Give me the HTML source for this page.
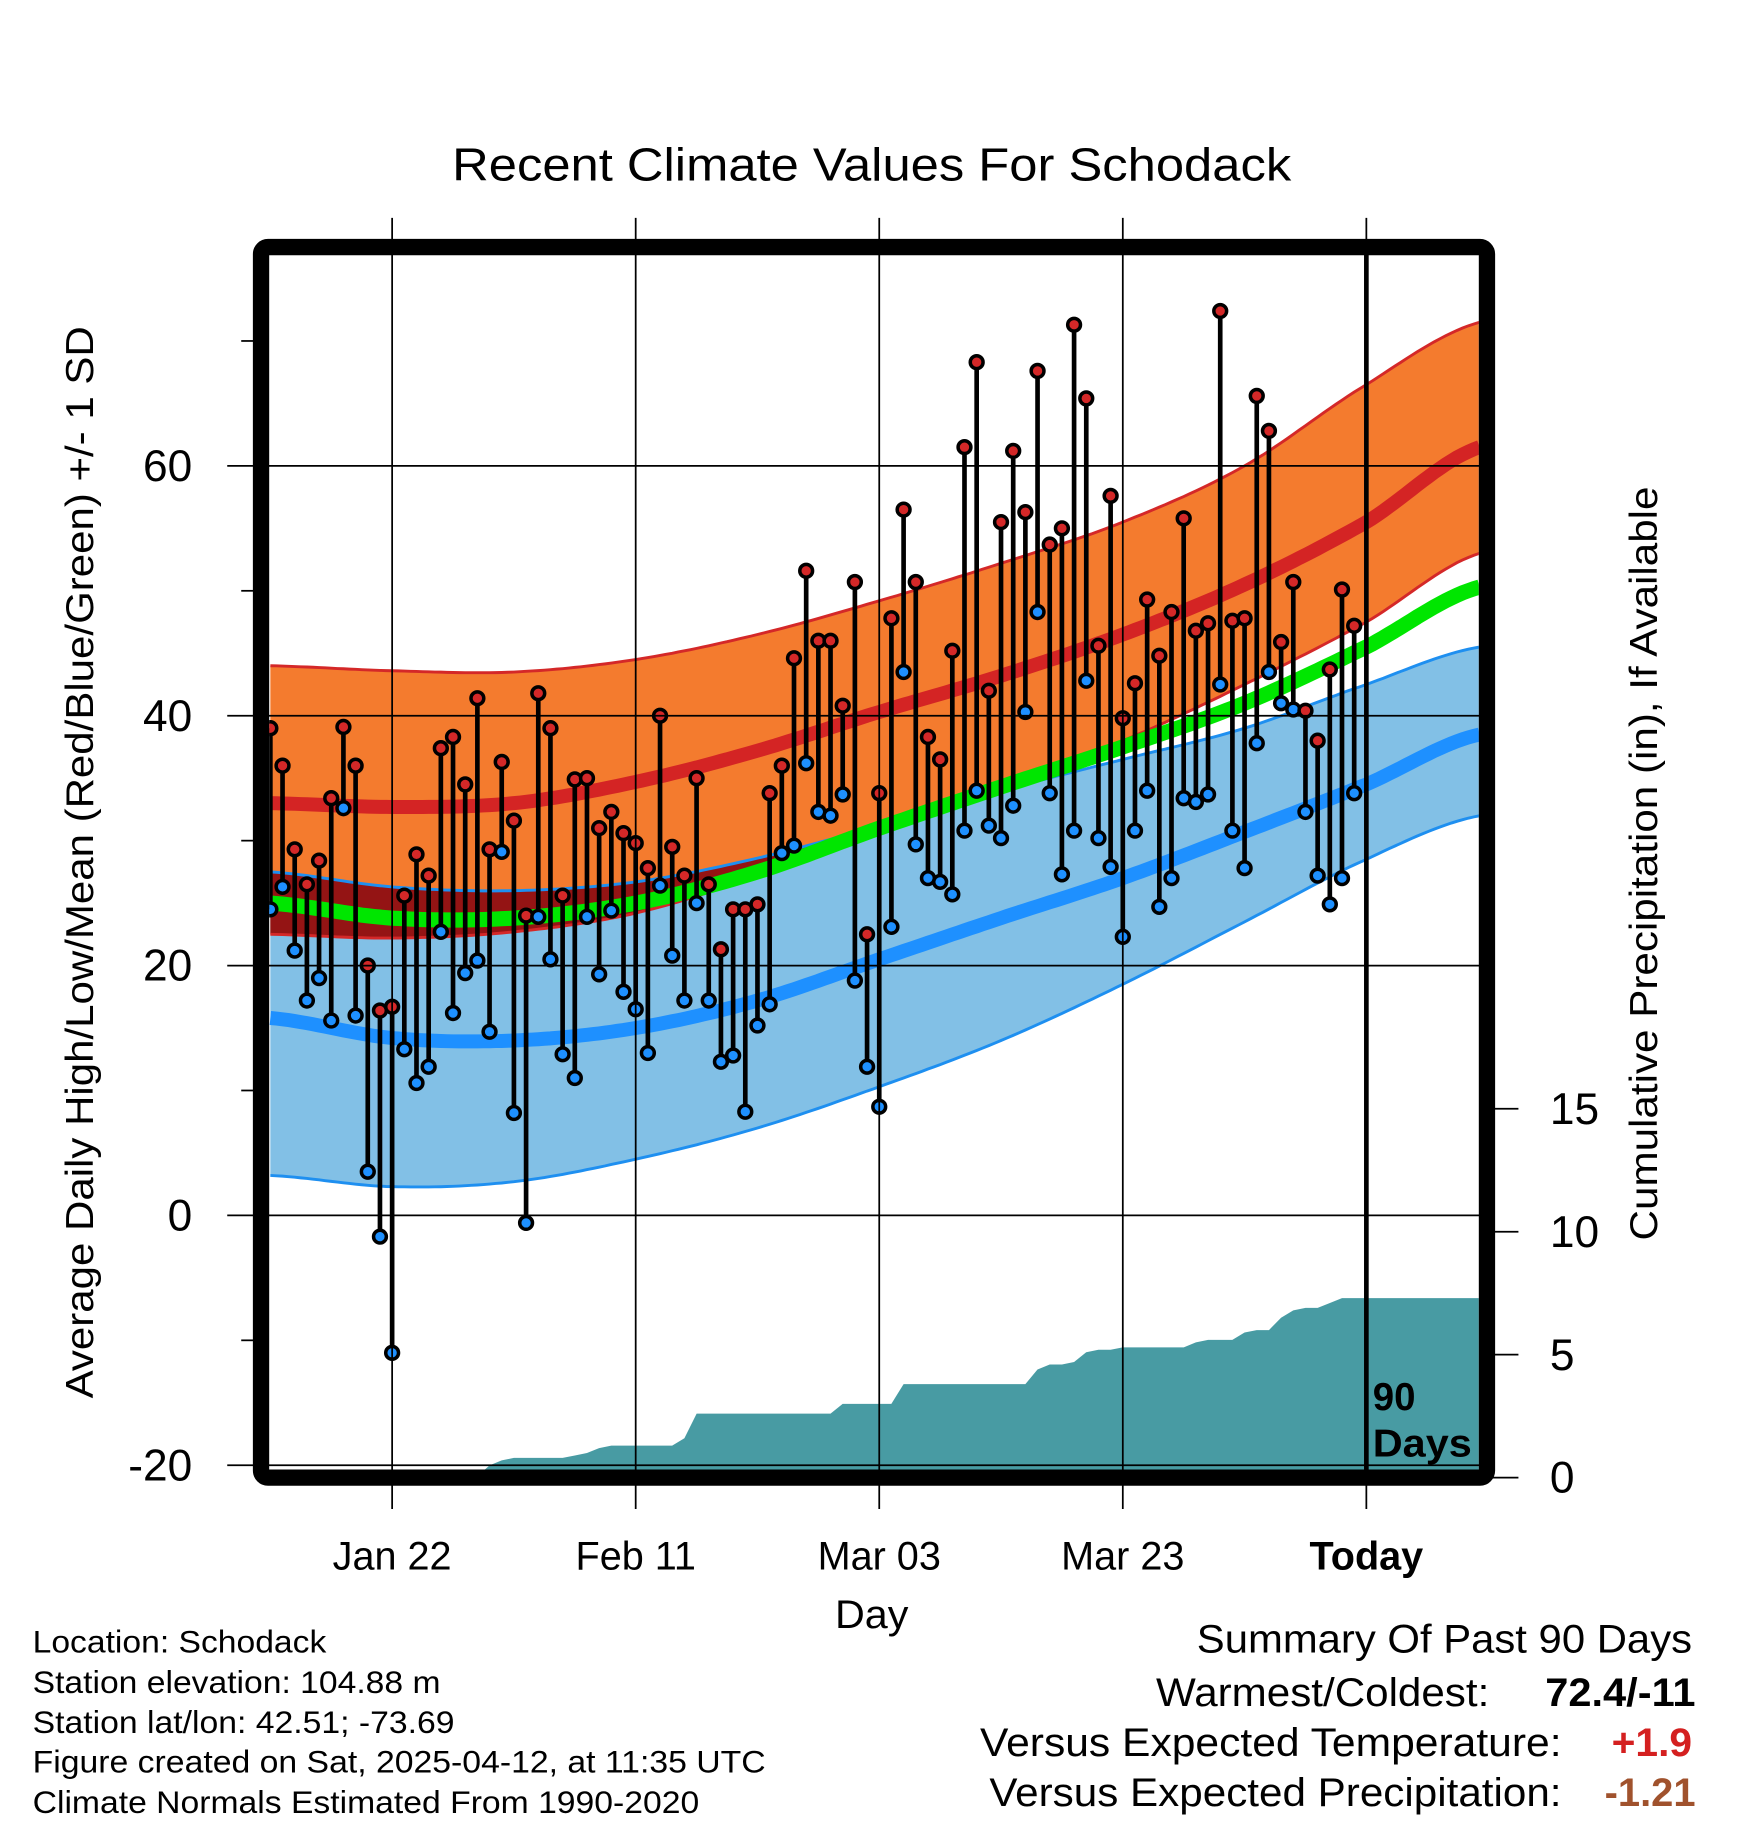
<!DOCTYPE html>
<html><head><meta charset="utf-8"><style>
html,body{margin:0;padding:0;background:#fff;}
svg{display:block;font-family:"Liberation Sans",sans-serif;}
</style></head><body>
<svg id="chart" width="1748" height="1828" viewBox="0 0 1500 1568.7" preserveAspectRatio="none" xmlns="http://www.w3.org/2000/svg">
<defs><clipPath id="plotclip"><rect x="231" y="219" width="1038" height="1042"/></clipPath></defs>
<rect width="1500" height="1568.7" fill="#fff"/>
<text x="748" y="155" font-size="40" text-anchor="middle" textLength="720" lengthAdjust="spacingAndGlyphs">Recent Climate Values For Schodack</text>
<g id="plot" clip-path="url(#plotclip)"></g>
<g id="axes"></g>
<rect x="224" y="212" width="1052" height="1056" rx="6" fill="none" stroke="#000" stroke-width="14"/>
<text transform="translate(80,740) rotate(-90)" font-size="33" text-anchor="middle" textLength="920" lengthAdjust="spacingAndGlyphs">Average Daily High/Low/Mean (Red/Blue/Green) +/- 1 SD</text>
<text transform="translate(1422,741) rotate(-90)" font-size="33" text-anchor="middle" textLength="647" lengthAdjust="spacingAndGlyphs">Cumulative Precipitation (in), If Available</text>
<text x="748" y="1397" font-size="34" text-anchor="middle" textLength="63" lengthAdjust="spacingAndGlyphs">Day</text>
<text font-size="33" font-weight="bold"><tspan x="1178" y="1210">90</tspan><tspan x="1178" y="1250" textLength="85" lengthAdjust="spacingAndGlyphs">Days</tspan></text>
<g font-size="27">
<text x="28" y="1418" textLength="252" lengthAdjust="spacingAndGlyphs">Location: Schodack</text>
<text x="28" y="1453" textLength="350" lengthAdjust="spacingAndGlyphs">Station elevation: 104.88 m</text>
<text x="28" y="1487" textLength="362" lengthAdjust="spacingAndGlyphs">Station lat/lon: 42.51; -73.69</text>
<text x="28" y="1521" textLength="629" lengthAdjust="spacingAndGlyphs">Figure created on Sat, 2025-04-12, at 11:35 UTC</text>
<text x="28" y="1556" textLength="572" lengthAdjust="spacingAndGlyphs">Climate Normals Estimated From 1990-2020</text>
</g>
<g font-size="34">
<text x="1027" y="1418" textLength="425" lengthAdjust="spacingAndGlyphs">Summary Of Past 90 Days</text>
<text x="992" y="1464" textLength="286" lengthAdjust="spacingAndGlyphs">Warmest/Coldest:</text>
<text x="1326" y="1464" font-weight="bold" textLength="129" lengthAdjust="spacingAndGlyphs">72.4/-11</text>
<text x="841" y="1507" textLength="499" lengthAdjust="spacingAndGlyphs">Versus Expected Temperature:</text>
<text x="1383" y="1507" font-weight="bold" fill="#d42020" textLength="69" lengthAdjust="spacingAndGlyphs">+1.9</text>
<text x="849" y="1550" textLength="491" lengthAdjust="spacingAndGlyphs">Versus Expected Precipitation:</text>
<text x="1377" y="1550" font-weight="bold" fill="#a0522d" textLength="78" lengthAdjust="spacingAndGlyphs">-1.21</text>
</g>
</svg>
<script>
// ---- data ----
const normDays = [0,10,20,30,40,50,60,70,80,90,99.3];
const redMean  = [33,32.7,33,34.7,37.2,40.3,43.2,46.5,50.5,55.5,61.5];
const redUpper = [44,43.6,43.5,44.5,46.5,49.2,52.2,55.5,60,66.5,71.5];
const redLower = [22.5,22.2,22.7,24.2,27.2,31,34.5,38,42.5,47.5,53];
const greenMean= [25,23.8,23.8,25,27.5,31,34.3,37.5,41,45.5,50.3];
const blueMean = [15.8,14.2,14,15,17.2,20.5,23.8,27,30.7,34.5,38.5];
const blueUpper= [27.5,26.3,26,26.7,28.6,31.2,34,36.5,39,42.5,45.5];
const blueLower= [3.2,2.3,2.7,4.5,7,10.3,14,18.5,23.5,28.5,32];
const highs = [39,36,29.3,26.5,28.4,33.4,39.1,36,20,16.4,16.7,25.6,28.9,27.2,37.4,38.3,34.5,41.4,29.3,36.3,31.6,24,41.8,39,25.6,34.9,35,31,32.3,30.6,29.8,27.8,40,29.5,27.2,35,26.5,21.3,24.5,24.5,24.9,33.8,36,44.6,51.6,46,46,40.8,50.7,22.5,33.8,47.8,56.5,50.7,38.3,36.5,45.2,61.5,68.3,42,55.5,61.2,56.3,67.6,53.7,55,71.3,65.4,45.6,57.6,39.8,42.6,49.3,44.8,48.3,55.8,46.8,47.4,72.4,47.6,47.8,65.6,62.8,45.9,50.7,40.4,38,43.7,50.1,47.2];
const lows  = [24.5,26.3,21.2,17.2,19,15.6,32.6,16,3.5,-1.7,-11,13.3,10.6,11.9,22.7,16.2,19.4,20.4,14.7,29.1,8.2,-0.6,23.9,20.5,12.9,11,23.9,19.3,24.4,17.9,16.5,13,26.4,20.8,17.2,25,17.2,12.3,12.8,8.3,15.2,16.9,29,29.6,36.2,32.3,32,33.7,18.8,11.9,8.7,23.1,43.5,29.7,27,26.7,25.7,30.8,34,31.2,30.2,32.8,40.3,48.3,33.8,27.3,30.8,42.8,30.2,27.9,22.3,30.8,34,24.7,27,33.4,33.1,33.7,42.5,30.8,27.8,37.8,43.5,41,40.5,32.3,27.2,24.9,27,33.8];
const precip = [0,0,0,0,0,0,0,0,0,0,0,0,0,0,0,0,0,0.05,0.5,0.7,0.8,0.8,0.8,0.8,0.8,0.9,1.0,1.2,1.3,1.3,1.3,1.3,1.3,1.3,1.6,2.6,2.6,2.6,2.6,2.6,2.6,2.6,2.6,2.6,2.6,2.6,2.6,3.0,3.0,3.0,3.0,3.0,3.8,3.8,3.8,3.8,3.8,3.8,3.8,3.8,3.8,3.8,3.8,4.4,4.6,4.6,4.7,5.1,5.2,5.2,5.3,5.3,5.3,5.3,5.3,5.3,5.5,5.6,5.6,5.6,5.9,6.0,6.0,6.5,6.8,6.9,6.9,7.1,7.3,7.3];
const xTickDays = [10,30,50,70,90];
const xTickLabels = ["Jan 22","Feb 11","Mar 03","Mar 23","Today"];
const yTicks = [60,40,20,0,-20];
const yMinor = [70,50,30,10,-10];
const pTicks = [0,5,10,15];

// ---- scales ----
const X = d => 232 + d*10.45;
const Y = v => 1043 - v*10.72;
const P = p => 1268 - p*21.1;
const NS = "http://www.w3.org/2000/svg";
const plot = document.getElementById('plot');
const axes = document.getElementById('axes');
function mk(tag, attrs, parent){const e=document.createElementNS(NS,tag);for(const k in attrs)e.setAttribute(k,attrs[k]);parent.appendChild(e);return e;}

function sample(vals){
  const out=[];const n=normDays.length;
  for(let i=0;i<n-1;i++){
    const p0=vals[Math.max(i-1,0)],p1=vals[i],p2=vals[i+1],p3=vals[Math.min(i+2,n-1)];
    const d0=normDays[i],d1=normDays[i+1];
    for(let s=0;s<20;s++){const t=s/20;const t2=t*t,t3=t2*t;
      const v=0.5*((2*p1)+(-p0+p2)*t+(2*p0-5*p1+4*p2-p3)*t2+(-p0+3*p1-3*p2+p3)*t3);
      out.push([d0+(d1-d0)*t,v]);}
  }
  out.push([normDays[n-1],vals[n-1]]);
  return out;
}
const pts = a => a.map(p=>X(p[0]).toFixed(1)+','+Y(p[1]).toFixed(1)).join(' ');
const sRU=sample(redUpper),sRL=sample(redLower),sBU=sample(blueUpper),sBL=sample(blueLower);

let e;
e=mk('polygon',{points:pts(sRU)+' '+pts(sRL.slice().reverse()),fill:'#f47b2e'},plot);


e=mk('polygon',{points:pts(sBU)+' '+pts(sBL.slice().reverse()),fill:'#82c0e6'},plot);


const ovBot=sBU.map((p,i)=>[p[0],Math.min(p[1],sRL[i][1])]);
e=mk('polygon',{points:pts(sBU)+' '+pts(ovBot.reverse()),fill:'#941414'},plot);


[[redUpper,'#d42828',2.5,'high-upper-line'],[redLower,'#d42828',2.5,'high-lower-line'],[blueUpper,'#1e8ff0',2.5,'low-upper-line'],[blueLower,'#1e8ff0',2.5,'low-lower-line'],[redMean,'#d42424',12,'high-mean-line'],[blueMean,'#1e90ff',12,'low-mean-line'],[greenMean,'#00e600',13,'mean-line']].forEach(c=>{
  const l=mk('polyline',{points:pts(sample(c[0])),fill:'none',stroke:c[1],'stroke-width':c[2]},plot);
  
  
});
// precip area
let pp=X(0)+','+P(0);
precip.forEach((p,i)=>{pp+=' '+X(i).toFixed(1)+','+P(p).toFixed(1);});
pp+=' 1275,'+P(precip[precip.length-1]).toFixed(1)+' 1275,'+P(0);
e=mk('polygon',{points:pp,fill:'#489ba3'},plot);


// grid
yTicks.forEach(v=>{
  const g=mk('line',{x1:195,x2:1276,y1:Y(v),y2:Y(v),stroke:'#000','stroke-width':1.5},axes);
  
  
  const t=mk('text',{x:165,y:Y(v)+13,'font-size':38,'text-anchor':'end'},axes);t.textContent=v;
  
  
});
yMinor.forEach(v=>{
  const g=mk('line',{x1:207,x2:220,y1:Y(v),y2:Y(v),stroke:'#000','stroke-width':1.5},axes);
  
  
});
xTickDays.forEach((d,i)=>{
  const last=i===xTickDays.length-1;
  const g=mk('line',{x1:X(d),x2:X(d),y1:187,y2:1295,stroke:'#000','stroke-width':1.5},axes);
  
  
  if(last){const tl=mk('line',{x1:X(d),x2:X(d),y1:212,y2:1268,stroke:'#000','stroke-width':4},axes);
    
    }
  const t=mk('text',{x:X(d),y:1347,'font-size':34,'text-anchor':'middle','font-weight':last?'bold':'normal'},axes);t.textContent=xTickLabels[i];
  
  
});
pTicks.forEach(p=>{
  const g=mk('line',{x1:1276,x2:1303,y1:P(p),y2:P(p),stroke:'#000','stroke-width':1.5},axes);
  
  
  const t=mk('text',{x:1330,y:P(p)+13,'font-size':38},axes);t.textContent=p;
  
  
});
// daily bars
highs.forEach((h,i)=>{
  const x=X(i);
  const ln=mk('line',{x1:x,x2:x,y1:Y(h),y2:Y(lows[i]),stroke:'#000','stroke-width':4},plot);
  
  
  const c1=mk('circle',{cx:x,cy:Y(h),r:5.5,fill:'#d42828',stroke:'#000','stroke-width':3},plot);
  
  
  const c2=mk('circle',{cx:x,cy:Y(lows[i]),r:5.5,fill:'#1e90ff',stroke:'#000','stroke-width':3},plot);
  
  
});
</script>
</body></html>
